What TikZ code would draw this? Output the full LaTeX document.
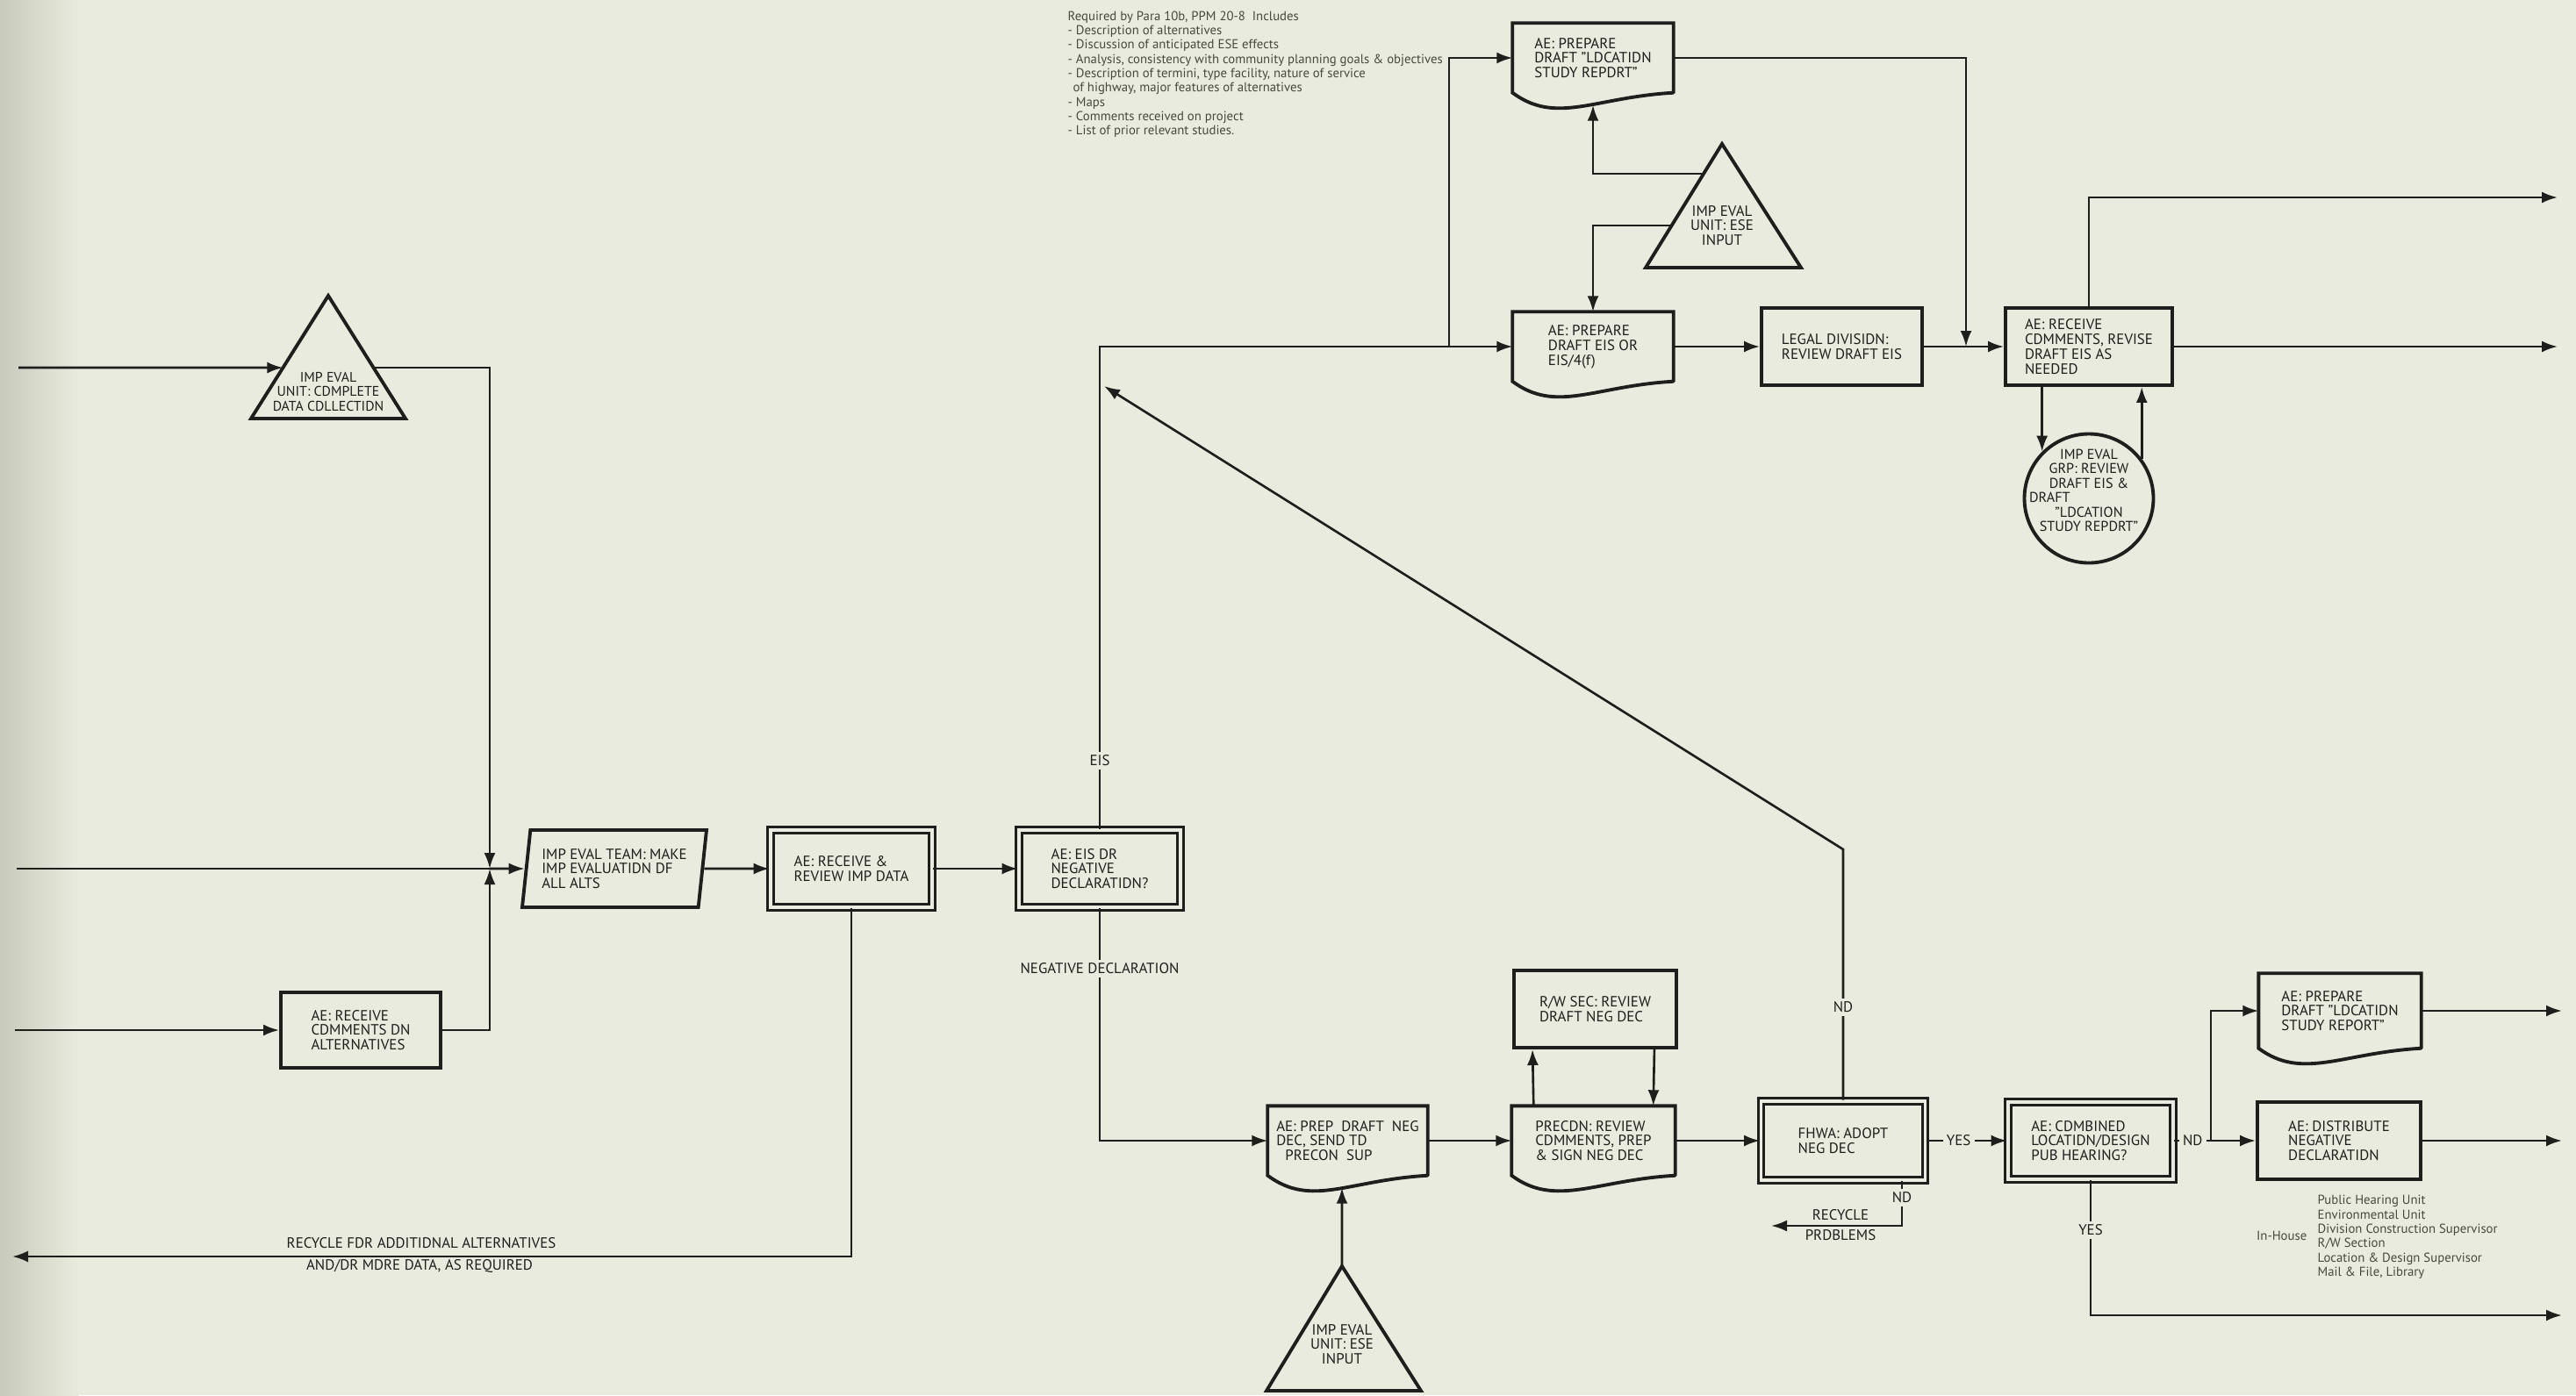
\documentclass[tikz,border=0pt]{standalone}
\usepackage{fontspec}
\setmainfont{PT Sans}
\usepackage{tikz}
\usetikzlibrary{calc, arrows.meta, shapes.geometric}
\definecolor{paper}{RGB}{233,235,222}
\definecolor{shadow}{RGB}{200,202,188}
\definecolor{ink}{RGB}{30,30,28}
\definecolor{pencil}{RGB}{72,72,64}
\newcommand{\boxfont}{\fontsize{4.8}{4.8}\selectfont}
\newcommand{\notefont}{\fontsize{4.2}{4.65}\selectfont}
\newcommand{\docline}[1]{\draw[outline, line cap=round] (#1.south east) -- (#1.north east) -- (#1.north west) -- (#1.south west) .. controls +(0.5,-0.37) and +(-0.9,-0.05) .. (#1.south east);}
\tikzset{>={Latex[length=1.8mm,width=1.3mm]}}
\tikzset{
 outline/.style={draw=ink, line width=1.1pt},
 box/.style={outline, rectangle, align=left, font=\boxfont, text=ink, minimum width=1.84cm, minimum height=0.88cm, inner sep=1pt},
 dbox/.style={box, line width=0.8pt, double=paper, double distance=1.1pt},
 doc/.style={rectangle, align=left, font=\boxfont, text=ink, minimum width=1.82cm, minimum height=0.78cm, inner sep=1pt},
 flow/.style={draw=ink, line width=0.75pt},
 lbl/.style={fill=paper, font=\boxfont, text=ink, inner sep=1.2pt},
 tritext/.style={align=center, font=\boxfont, text=ink, inner sep=0pt},
 note/.style={align=left, font=\notefont, text=pencil, inner sep=0pt}
}

\begin{document}
\begin{tikzpicture}
\useasboundingbox (0,0) rectangle (29.35,-15.90);
\fill[paper] (0,0) rectangle (29.35,-15.90);
\shade[left color=shadow, right color=paper] (0,0) rectangle (0.9,-15.90);

% free ends and junctions
\coordinate (in1) at (0.21,-4.19);
\coordinate (in2) at (0.19,-9.90);
\coordinate (in3) at (0.17,-11.74);
\coordinate (back) at (0.14,-14.32);
\coordinate (j1) at (5.58,-9.90);
\coordinate (br1) at (16.51,-3.95);
\coordinate (j2) at (22.40,-3.95);
\coordinate (bend) at (21.00,-9.68);
\coordinate (eistip) at (12.58,-4.40);
\coordinate (recyc) at (20.18,-13.97);
\coordinate (jn2) at (25.19,-13.00);
\coordinate (o1) at (29.14,-2.25);
\coordinate (o2) at (29.14,-3.95);
\coordinate (o3) at (29.19,-11.52);
\coordinate (o4) at (29.19,-13.00);
\coordinate (o5) at (29.19,-14.99);

% triangles
\coordinate (t1a) at (3.74,-3.37);
\coordinate (t1l) at (2.86,-4.77);
\coordinate (t1r) at (4.62,-4.77);
\draw[outline] (t1a) -- (t1l) -- (t1r) -- cycle;
\node[tritext, font=\fontsize{4.5}{4.7}\selectfont] (t1) at (3.74,-4.46) {IMP EVAL\\UNIT: CDMPLETE\\DATA CDLLECTIDN};

\coordinate (t2a) at (19.62,-1.64);
\coordinate (t2l) at (18.75,-3.05);
\coordinate (t2r) at (20.52,-3.05);
\draw[outline] (t2a) -- (t2l) -- (t2r) -- cycle;
\node[tritext] (t2) at (19.62,-2.57) {IMP EVAL\\UNIT: ESE\\INPUT};

\coordinate (t3a) at (15.29,-14.43);
\coordinate (t3l) at (14.43,-15.85);
\coordinate (t3r) at (16.19,-15.85);
\draw[outline] (t3a) -- (t3l) -- (t3r) -- cycle;
\node[tritext] (t3) at (15.29,-15.32) {IMP EVAL\\UNIT: ESE\\INPUT};

% boxes
\node[box, minimum width=1.82cm, minimum height=0.86cm] (cmt) at (4.11,-11.74) {AE: RECEIVE\\CDMMENTS DN\\ALTERNATIVES};
\node[trapezium, trapezium left angle=80, trapezium right angle=100, trapezium stretches body=true, outline, align=left, font=\boxfont, text=ink, minimum width=2.10cm, minimum height=0.88cm, inner sep=1pt] (par) at (7.00,-9.90) {IMP EVAL TEAM: MAKE\\IMP EVALUATIDN DF\\ALL ALTS};
\node[dbox] (rev) at (9.70,-9.90) {AE: RECEIVE \&\\REVIEW IMP DATA};
\node[dbox] (eis) at (12.53,-9.90) {AE: EIS DR\\NEGATIVE\\DECLARATIDN?};

\node[doc] (lsr1) at (18.15,-0.66) {AE: PREPARE\\DRAFT "LDCATIDN\\STUDY REPDRT"};
\node[doc] (deis) at (18.15,-3.95) {AE: PREPARE\\DRAFT EIS OR\\EIS/4(f)};
\node[box, minimum width=1.83cm] (legal) at (20.985,-3.95) {LEGAL DIVISIDN:\\REVIEW DRAFT EIS};
\node[box, minimum width=1.90cm] (rec) at (23.80,-3.95) {AE: RECEIVE\\CDMMENTS, REVISE\\DRAFT EIS AS\\NEEDED};
\node[circle, outline, minimum size=1.47cm, inner sep=0pt] (grp) at (23.80,-5.68) {};
\node[tritext, font=\fontsize{4.6}{4.7}\selectfont] (grptext) at (23.80,-5.59) {IMP EVAL\\GRP: REVIEW\\DRAFT EIS \&\\\makebox[1.36cm][l]{DRAFT}\\"LDCATION\\STUDY REPDRT"};

\node[doc, minimum width=1.81cm] (prepneg) at (15.355,-13.00) {AE: PREP\ \ DRAFT\ \ NEG\\DEC, SEND TD\\\hspace*{0.6em}PRECON\ \ SUP};
\node[box, minimum width=1.85cm] (rw) at (18.175,-11.50) {R/W SEC: REVIEW\\DRAFT NEG DEC};
\node[doc, minimum width=1.85cm] (precon) at (18.155,-13.00) {PRECDN: REVIEW\\CDMMENTS, PREP\\\& SIGN NEG DEC};
\node[dbox, minimum width=1.87cm, minimum height=0.90cm] (fhwa) at (21.00,-13.00) {FHWA: ADOPT\\NEG DEC};
\node[dbox, minimum width=1.88cm] (comb) at (23.82,-13.00) {AE: CDMBINED\\LOCATIDN/DESIGN\\PUB HEARING?};
\node[doc, minimum width=1.84cm, minimum height=0.84cm] (lsr2) at (26.66,-11.52) {AE: PREPARE\\DRAFT "LDCATIDN\\STUDY REPORT"};
\node[box, minimum width=1.86cm] (dist) at (26.65,-13.00) {AE: DISTRIBUTE\\NEGATIVE\\DECLARATIDN};

\docline{lsr1}
\docline{deis}
\docline{prepneg}
\docline{precon}
\docline{lsr2}

% left part
\draw[flow,->] (in1) -- ($(t1a)!0.586!(t1l)$);
\draw[flow,->] ($(t1a)!0.586!(t1r)$) -| (j1);
\draw[flow] (in2) -- (j1);
\draw[flow,->] (in3) -- (cmt);
\draw[flow,->] (cmt) -| (j1);
\draw[flow,->] (j1) -- (par);
\draw[flow,->] (par) -- (rev);
\draw[flow,->] (rev) -- (eis);
\draw[flow,->] (rev.south) |- (back);
\node[font=\boxfont, text=ink, inner sep=0pt] (rcy1) at (4.80,-14.17) {RECYCLE FDR ADDITIDNAL ALTERNATIVES};
\node[font=\boxfont, text=ink, inner sep=0pt] (rcy2) at (4.78,-14.43) {AND/DR MDRE DATA, AS REQUIRED};

% EIS branch
\draw[flow,->] (eis.north) |- (deis.west);
\draw[flow,->] (br1) |- (lsr1.west);
\draw[flow,->] ($(t2a)!0.24!(t2l)$) -| ($(lsr1.south)+(0,-0.14)$);
\draw[flow,->] ($(t2a)!0.66!(t2l)$) -| (deis.north);
\draw[flow,->] (deis) -- (legal);
\draw[flow,->] (legal) -- (rec);
\draw[flow,->] (lsr1.east) -| (j2);
\draw[flow,->] (rec.east) -- (o2);
\draw[flow,->] (rec.north) |- (o1);
\draw[flow,->] (grp.north west |- rec.south) -- (grp.north west);
\draw[flow,->] (grp.37) -- (grp.37 |- rec.south);
\node[lbl] (lbleis) at (12.53,-8.67) {EIS};

% negative declaration branch
\draw[flow,->] (eis.south) |- (prepneg.west);
\node[lbl] (lblneg) at (12.53,-11.04) {NEGATIVE DECLARATION};
\draw[flow,->] (t3a) -- ($(prepneg.south)+(-0.065,-0.14)$);
\draw[flow,->] (prepneg) -- (precon);
\draw[flow,->] ($(precon.north west)+(0.25,0)$) -- ($(rw.south west)+(0.23,0)$);
\draw[flow,->] ($(rw.south east)+(-0.27,0)$) -- ($(precon.north east)+(-0.25,0)$);
\draw[flow,->] (precon) -- (fhwa);
\draw[flow,->] (fhwa.north) -- (bend) -- (eistip);
\node[lbl] (lblno1) at (21.00,-11.48) {ND};
\draw[flow,->] ($(fhwa.south)+(0.67,0)$) |- (recyc);
\node[lbl] (lblno2) at (21.67,-13.65) {ND};
\node[font=\boxfont, text=ink, inner sep=0pt] (rcy3) at (20.97,-13.85) {RECYCLE};
\node[font=\boxfont, text=ink, inner sep=0pt] (rcy4) at (20.97,-14.08) {PRDBLEMS};
\draw[flow,->] (fhwa) -- node[lbl, pos=0.4] (lblyes1) {YES} (comb);
\draw[flow] (comb) -- node[lbl] (lblno3) {ND} (jn2);
\draw[flow,->] (jn2) -- (dist);
\draw[flow,->] (jn2) |- (lsr2.west);
\draw[flow,->] (lsr2.east) -- (o3);
\draw[flow,->] (dist.east) -- (o4);
\draw[flow,->] (comb.south) |- (o5);
\node[lbl] (lblyes2) at (23.82,-14.02) {YES};

% notes
\node[note, anchor=north west] (req) at (12.16,-0.12) {Required by Para 10b, PPM 20-8 \ Includes\\
- Description of alternatives\\
- Discussion of anticipated ESE effects\\
- Analysis, consistency with community planning goals \& objectives\\
- Description of termini, type facility, nature of service\\
\hspace*{0.4em}of highway, major features of alternatives\\
- Maps\\
- Comments received on project\\
- List of prior relevant studies.};
\node[note, anchor=east] (house) at (26.29,-14.08) {In-House};
\node[note, anchor=west] (houselist) at (26.40,-14.10) {Public Hearing Unit\\Environmental Unit\\Division Construction Supervisor\\R/W Section\\Location \& Design Supervisor\\Mail \& File, Library};
\end{tikzpicture}
\end{document}
